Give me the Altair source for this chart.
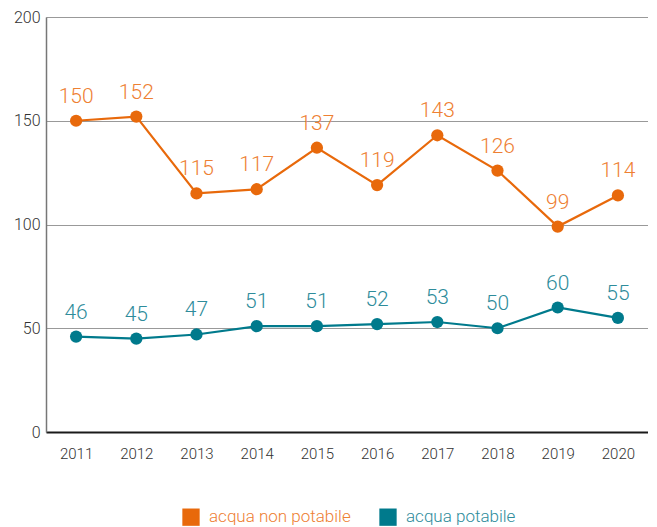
import altair as alt
import pandas as pd

years = ["2011", "2012", "2013", "2014", "2015", "2016", "2017", "2018", "2019", "2020"]
non_potabile = [150, 152, 115, 117, 137, 119, 143, 126, 99, 114]
potabile = [46, 45, 47, 51, 51, 52, 53, 50, 60, 55]
series_names = ["acqua non potabile", "acqua potabile"]
line_colors = ["#E8690B", "#007A8C"]
label_colors = ["#EE8033", "#2E8C9B"]

rows = []
for y, v in zip(years, non_potabile):
    rows.append({"anno": y, "valore": v, "serie": series_names[0]})
for y, v in zip(years, potabile):
    rows.append({"anno": y, "valore": v, "serie": series_names[1]})
df = pd.DataFrame(rows)

FONT = "Roboto"
W = 300

x = alt.X("anno:O", title=None,
          scale=alt.Scale(paddingOuter=0.5, paddingInner=0),
          axis=alt.Axis(labelAngle=0, ticks=False, domainColor="#1a1a1a", domainWidth=2,
                        labelFontSize=15, labelColor="#333333", labelPadding=14,
                        labelFont=FONT, labelFontWeight=W))
y = alt.Y("valore:Q", title=None,
          scale=alt.Scale(domain=[0, 200]),
          axis=alt.Axis(values=[0, 50, 100, 150, 200], ticks=False, domainColor="#777777",
                        domainWidth=1.5, gridColor="#999999", gridWidth=1.2,
                        labelFontSize=16, labelColor="#333333", labelPadding=6,
                        labelFont=FONT, labelFontWeight=W))
legend_label_expr = "datum.value === 'acqua potabile' ? '%s' : '%s'" % (label_colors[1], label_colors[0])
legend_color = alt.Color("serie:N", scale=alt.Scale(domain=series_names, range=line_colors),
                         legend=alt.Legend(title=None, orient="none", direction="horizontal",
                                           legendX=136, legendY=491,
                                           symbolType="square", symbolSize=300, symbolStrokeWidth=0,
                                           labelFontSize=17, labelFont=FONT, labelFontWeight=W,
                                           columnPadding=28, labelOffset=9,
                                           symbolOpacity=1,
                                           labelColor={"expr": legend_label_expr}))
plain_color = alt.Color("serie:N", scale=alt.Scale(domain=series_names, range=line_colors), legend=None)

base = alt.Chart(df).encode(x=x, y=y)
lines = base.mark_line(strokeWidth=2.2).encode(color=plain_color)
points = base.mark_circle(size=150, opacity=1).encode(color=legend_color)
labels = base.mark_text(dy=-24, fontSize=21, font=FONT, fontWeight=W).encode(
    text="valore:Q",
    color=alt.Color("serie:N", scale=alt.Scale(domain=series_names, range=label_colors), legend=None))

chart = alt.layer(lines, points, labels).resolve_scale(color="independent").properties(
    width=602, height=415, padding={"left": 5, "top": 1, "right": 0, "bottom": 5}
).configure_view(stroke=None).configure(background="white")

chart.save("out.html", embed_options={"renderer": "svg", "actions": False})
